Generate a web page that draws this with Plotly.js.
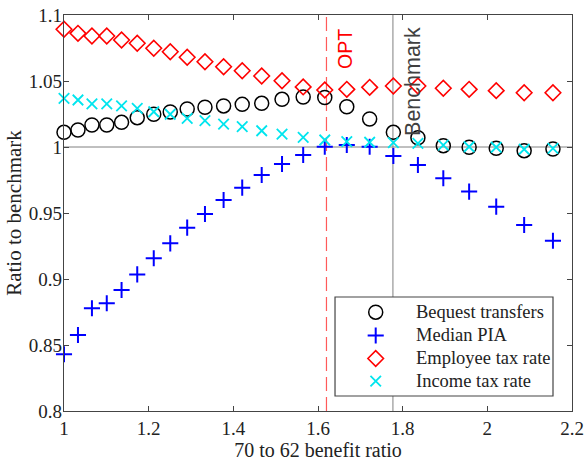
<!DOCTYPE html>
<html>
<head>
<meta charset="utf-8">
<script src="https://cdn.plot.ly/plotly-3.0.1.min.js"></script>
<style>html,body{margin:0;padding:0;background:#fff;}#chart{width:585px;height:462px;}</style>
</head>
<body>
<div id="chart"></div>
<script>
// 70 to 62 benefit ratio (x positions of the points)
const ratio = [1.000, 1.033, 1.066, 1.101, 1.136, 1.173, 1.212, 1.251, 1.291, 1.333, 1.377, 1.421, 1.467, 1.515, 1.565, 1.616,
               1.668, 1.722, 1.778, 1.836, 1.896, 1.957, 2.021, 2.087, 2.155];
const bequest = [1.0111, 1.0129, 1.0167, 1.0167, 1.0187, 1.0222, 1.0248, 1.0265, 1.0288, 1.0301, 1.0311, 1.0323, 1.0331, 1.0361, 1.0379, 1.0375,
                 1.0305, 1.0212, 1.0111, 1.0070, 1.0010, 0.9998, 0.9990, 0.9972, 0.9985];
const medianPIA = [0.8430, 0.8576, 0.8778, 0.8816, 0.8917, 0.9035, 0.9157, 0.9270, 0.9389, 0.9492, 0.9598, 0.9692, 0.9788, 0.9871, 0.9939, 1.0002,
                   1.0015, 1.0002, 0.9932, 0.9864, 0.9763, 0.9662, 0.9548, 0.9409, 0.9290];
const employeeTax = [1.0892, 1.0861, 1.0841, 1.0841, 1.0811, 1.0786, 1.0748, 1.0722, 1.0680, 1.0646, 1.0608, 1.0578, 1.0538, 1.0502, 1.0455, 1.0432,
                     1.0437, 1.0452, 1.0462, 1.0462, 1.0445, 1.0437, 1.0427, 1.0411, 1.0411];
const incomeTax = [1.0369, 1.0356, 1.0326, 1.0326, 1.0311, 1.0293, 1.0267, 1.0248, 1.0217, 1.0199, 1.0174, 1.0154, 1.0123, 1.0098, 1.0073, 1.0053,
                   1.0040, 1.0036, 1.0033, 1.0028, 1.0015, 1.0002, 0.9998, 0.9983, 0.9990];
const seriesNames = ["Bequest transfers", "Median PIA", "Employee tax rate", "Income tax rate"];
const optRatio = 1.62;
const benchmarkRatio = 1.777;
const xTicks = [1, 1.2, 1.4, 1.6, 1.8, 2, 2.2];
const yTicks = [0.8, 0.85, 0.9, 0.95, 1, 1.05, 1.1];

const serif = "Liberation Serif, Times New Roman, serif";
const sans = "Liberation Sans, Arial, sans-serif";

const markerStyles = [
  {symbol: "circle-open", size: 14, color: "#000000", line: {width: 1.5, color: "#000000"}},
  {symbol: "cross-thin-open", size: 11.5, color: "#0000ff", line: {width: 2, color: "#0000ff"}},
  {symbol: "diamond-open", size: 12, color: "#ff0000", line: {width: 1.6, color: "#ff0000"}},
  {symbol: "x-thin-open", size: 10.5, color: "#00e5ee", line: {width: 1.8, color: "#00e5ee"}}
];
const seriesValues = [bequest, medianPIA, employeeTax, incomeTax];

const traces = seriesValues.map((vals, i) => ({
  x: ratio, y: vals, name: seriesNames[i], type: "scatter", mode: "markers",
  marker: markerStyles[i], cliponaxis: false, showlegend: false, hoverinfo: "skip"
}));

// Hand-made legend (paper-like overlay axes, range 0..1)
const legBox = {x0: 0.5335, x1: 0.9626, y0: 0.0379, y1: 0.2879};
const legSymX = 0.6136;
const legTextX = 0.689;
const legRowY = [0.2496, 0.1907, 0.1326, 0.0753];
seriesNames.forEach((nm, i) => {
  traces.push({
    x: [legSymX], y: [legRowY[i]], xaxis: "x2", yaxis: "y2", type: "scatter", mode: "markers",
    marker: markerStyles[i], cliponaxis: false, showlegend: false, hoverinfo: "skip"
  });
});

const axisCommon = {
  showgrid: false, zeroline: false, showline: true, mirror: "ticks",
  linecolor: "#444", linewidth: 1.3, ticks: "inside", ticklen: 5, tickcolor: "#444",
  tickfont: {family: serif, size: 19, color: "#222"}
};

const annotations = [
  {text: "OPT", x: optRatio, xref: "x", xshift: 18.5, y: 0.914, yref: "paper", xanchor: "center", yanchor: "middle",
   textangle: -90, showarrow: false, font: {family: sans, size: 19.5, color: "#ff0000"}},
  {text: "Benchmark", x: benchmarkRatio, xref: "x", xshift: 19.5, y: 0.832, yref: "paper", xanchor: "center", yanchor: "middle",
   textangle: -90, showarrow: false, font: {family: sans, size: 21.5, color: "#404040"}}
];
seriesNames.forEach((nm, i) => {
  annotations.push({text: nm, x: legTextX, xref: "paper", y: legRowY[i], yref: "paper", xanchor: "left", yanchor: "middle",
    showarrow: false, font: {family: serif, size: 18.5, color: "#222"}});
});

const layout = {
  width: 585, height: 462,
  margin: {l: 64, r: 13, t: 15, b: 51},
  paper_bgcolor: "#fff", plot_bgcolor: "#fff",
  font: {family: serif, size: 18, color: "#222"},
  xaxis: Object.assign({}, axisCommon, {
    range: [1, 2.2], tickvals: xTicks, ticktext: xTicks.map(String),
    title: {text: "70 to 62 benefit ratio", font: {family: serif, size: 20, color: "#222"}, standoff: 1}
  }),
  yaxis: Object.assign({}, axisCommon, {
    range: [0.8, 1.1], tickvals: yTicks, ticktext: yTicks.map(String), ticklabelstandoff: -3,
    title: {text: "Ratio to benchmark", font: {family: serif, size: 21, color: "#222"}, standoff: 1}
  }),
  xaxis2: {overlaying: "x", range: [0, 1], visible: false, fixedrange: true},
  yaxis2: {overlaying: "y", range: [0, 1], visible: false, fixedrange: true},
  showlegend: false,
  shapes: [
    {type: "line", xref: "paper", x0: 0, x1: 1, yref: "y", y0: 1, y1: 1, line: {color: "#808080", width: 1}, layer: "below"},
    {type: "line", xref: "x", x0: benchmarkRatio, x1: benchmarkRatio, yref: "paper", y0: 0, y1: 1, line: {color: "#808080", width: 1}, layer: "below"},
    {type: "line", xref: "x", x0: optRatio, x1: optRatio, yref: "paper", y0: 0, y1: 1, line: {color: "#ff5a5a", width: 1.2, dash: "14px,6px"}, layer: "below"},
    {type: "rect", xref: "paper", yref: "paper", x0: legBox.x0, x1: legBox.x1, y0: legBox.y0, y1: legBox.y1,
     fillcolor: "#ffffff", line: {color: "#444", width: 1.2}, layer: "between"}
  ],
  annotations: annotations
};

Plotly.newPlot("chart", traces, layout, {displayModeBar: false, staticPlot: true});
</script>
</body>
</html>
